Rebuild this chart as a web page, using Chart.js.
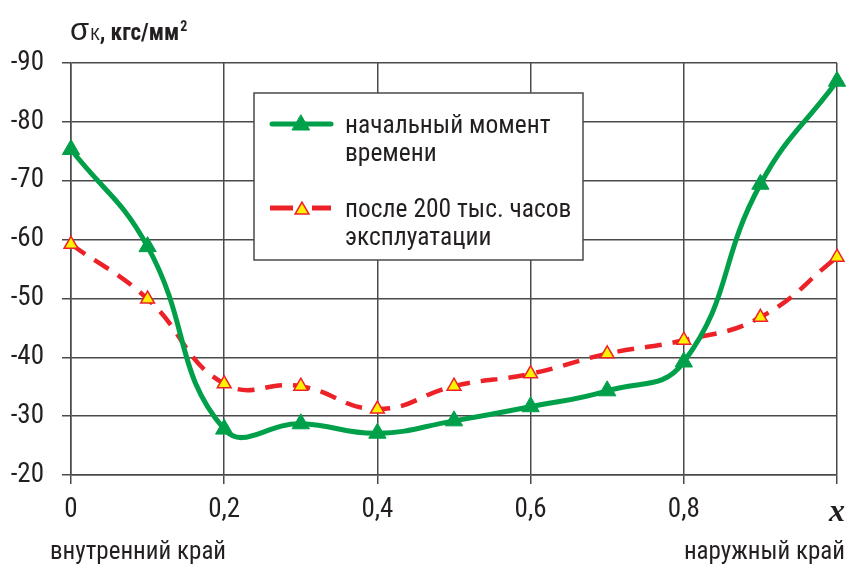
<!DOCTYPE html>
<html lang="ru">
<head>
<meta charset="utf-8">
<title>σК, кгс/мм²</title>
<script src="https://cdn.jsdelivr.net/npm/chart.js@4/dist/chart.umd.min.js"></script>
<style>
  html, body { margin: 0; padding: 0; background: #fff; }
  #wrap { width: 848px; height: 566px; position: relative; }
</style>
</head>
<body>
<div id="wrap"><canvas id="c" width="848" height="566"></canvas></div>
<script>
// Relative position across the wall (0 = inner edge, 1 = outer edge)
const positions = [0, 0.1, 0.2, 0.3, 0.4, 0.5, 0.6, 0.7, 0.8, 0.9, 1.0];
// Stress σК, kgf/mm², at the initial moment
const initialStress = [-75.3, -58.8, -27.8, -28.7, -27.1, -29.2, -31.6, -34.3, -39.2, -69.4, -86.9];
// Stress σК, kgf/mm², after 200 thousand hours of service
const afterService = [-59.2, -49.9, -35.5, -35.1, -31.2, -35.1, -37.2, -40.6, -42.9, -46.8, -57.0];

const seriesNames = [['начальный момент', 'времени'], ['после 200 тыс. часов', 'эксплуатации']];
const xTicks = [0, 0.2, 0.4, 0.6, 0.8, 1.0];
const yTicks = [-90, -80, -70, -60, -50, -40, -30, -20];
const edgeLabels = ['внутренний край', 'наружный край'];

const FONT = "'Liberation Sans Narrow', 'Roboto Condensed', 'Arial Narrow', 'Liberation Sans', sans-serif";
const GREEN = '#00a04b';
const RED = '#ec2228';
const YELLOW = '#fff200';
const GRID = '#4a4a4a';

const toPoints = vals => positions.map((x, i) => ({ x, y: vals[i] }));

// Title, edge captions and the boxed legend
const decor = {
  id: 'decor',
  afterDatasetsDraw(chart) {
    const ctx = chart.ctx;
    ctx.save();
    // axis title: σ with subscript К, units with superscript 2
    ctx.fillStyle = '#231f20';
    ctx.textBaseline = 'alphabetic';
    ctx.textAlign = 'left';
    let x = 70;
    const base = 40;
    ctx.font = "31px 'Liberation Sans', sans-serif";
    ctx.fillText('σ', x, base);
    x += ctx.measureText('σ').width + 1;
    ctx.font = `17px ${FONT}`;
    ctx.fillText('К', x, base);
    x += ctx.measureText('К').width;
    ctx.font = `bold 23px ${FONT}`;
    ctx.fillText(', кгс/мм', x, base);
    x += ctx.measureText(', кгс/мм').width;
    ctx.font = `bold 14px ${FONT}`;
    ctx.fillText('2', x + 1, base - 9);

    // edge captions under the x axis
    ctx.font = `25px ${FONT}`;
    ctx.textBaseline = 'middle';
    ctx.textAlign = 'left';
    ctx.fillText(edgeLabels[0], 50, 553);
    ctx.textAlign = 'right';
    ctx.fillText(edgeLabels[1], 845, 553);

    // legend box
    const bx = 254, by = 93, bw = 329, bh = 167;
    ctx.fillStyle = '#fff';
    ctx.fillRect(bx, by, bw, bh);
    ctx.strokeStyle = GRID;
    ctx.lineWidth = 1.5;
    ctx.strokeRect(bx, by, bw, bh);

    // green sample
    ctx.strokeStyle = GREEN;
    ctx.lineWidth = 5;
    ctx.lineCap = 'round';
    ctx.beginPath();
    ctx.moveTo(272, 124);
    ctx.lineTo(331, 124);
    ctx.stroke();
    drawTriangle(ctx, 301, 125, 10, GREEN, GREEN, 1);

    // red dashed sample
    ctx.strokeStyle = RED;
    ctx.lineCap = 'butt';
    ctx.beginPath();
    ctx.moveTo(270, 208); ctx.lineTo(293, 208);
    ctx.moveTo(312, 208); ctx.lineTo(331, 208);
    ctx.stroke();
    drawTriangle(ctx, 302, 210, 8, YELLOW, RED, 1.5);

    ctx.fillStyle = '#231f20';
    ctx.textAlign = 'left';
    ctx.textBaseline = 'alphabetic';
    ctx.font = `25.5px ${FONT}`;
    ctx.fillText(seriesNames[0][0], 345, 133);
    ctx.fillText(seriesNames[0][1], 345, 161);
    ctx.fillText(seriesNames[1][0], 345, 217);
    ctx.fillText(seriesNames[1][1], 345, 245);
    ctx.restore();
  }
};

function drawTriangle(ctx, cx, cy, r, fill, stroke, lw) {
  ctx.save();
  ctx.beginPath();
  let a = 0;
  for (let i = 0; i < 3; i++) {
    const px = cx + Math.sin(a) * r, py = cy - Math.cos(a) * r;
    i === 0 ? ctx.moveTo(px, py) : ctx.lineTo(px, py);
    a += 2 * Math.PI / 3;
  }
  ctx.closePath();
  ctx.fillStyle = fill;
  ctx.fill();
  ctx.lineWidth = lw;
  ctx.strokeStyle = stroke;
  ctx.lineJoin = 'miter';
  ctx.stroke();
  ctx.restore();
}

new Chart(document.getElementById('c'), {
  type: 'line',
  data: {
    datasets: [
      {
        label: seriesNames[0].join(' '),
        data: toPoints(initialStress),
        borderColor: GREEN,
        backgroundColor: GREEN,
        borderWidth: 5,
        tension: 0.45,
        pointStyle: 'triangle',
        pointRadius: 10,
        pointBorderWidth: 1,
        pointBackgroundColor: GREEN,
        pointBorderColor: GREEN,
        clip: false
      },
      {
        label: seriesNames[1].join(' '),
        data: toPoints(afterService),
        borderColor: RED,
        backgroundColor: YELLOW,
        borderWidth: 4.5,
        borderDash: [17, 11],
        tension: 0.45,
        pointStyle: 'triangle',
        pointRadius: 8,
        pointBorderWidth: 1.5,
        pointBackgroundColor: YELLOW,
        pointBorderColor: RED,
        clip: false
      }
    ]
  },
  options: {
    responsive: false,
    animation: false,
    layout: { padding: { left: 0, right: 11, top: 63, bottom: 0 } },
    plugins: { legend: { display: false }, tooltip: { enabled: false } },
    scales: {
      x: {
        type: 'linear',
        min: 0,
        max: 1,
        afterBuildTicks: s => { s.ticks = xTicks.map(v => ({ value: v })); },
        afterFit: s => { s.height = 91; s.paddingLeft = 0; s.paddingRight = 0; },
        ticks: {
          padding: 10,
          maxRotation: 0,
          color: '#231f20',
          callback: v => (v === 1 ? 'x' : String(v).replace('.', ',')),
          font: c => (c.tick && c.tick.value === 1
            ? { family: "'Liberation Serif', 'DejaVu Serif', serif", style: 'italic', weight: 'bold', size: 32 }
            : { family: FONT, size: 27 })
        },
        grid: { color: GRID, lineWidth: 1.5, tickLength: 9, tickColor: GRID },
        border: { color: GRID, width: 1.5 }
      },
      y: {
        min: -90,
        max: -20,
        reverse: true,
        afterBuildTicks: s => { s.ticks = yTicks.map(v => ({ value: v })); },
        afterFit: s => { s.width = 71; s.paddingTop = 0; s.paddingBottom = 0; },
        ticks: {
          padding: 18,
          color: '#231f20',
          font: { family: FONT, size: 27 }
        },
        grid: { color: GRID, lineWidth: 1.5, tickLength: 9, tickColor: GRID },
        border: { color: GRID, width: 1.5 }
      }
    }
  },
  plugins: [decor]
});
</script>
</body>
</html>
